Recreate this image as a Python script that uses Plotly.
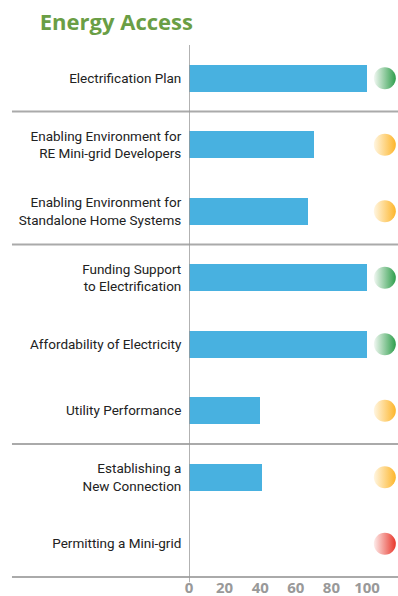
import plotly.graph_objects as go

categories = ['Electrification Plan',
              'Enabling Environment for<br>RE Mini-grid Developers',
              'Enabling Environment for<br>Standalone Home Systems',
              'Funding Support<br>to Electrification',
              'Affordability of Electricity',
              'Utility Performance',
              'Establishing a<br>New Connection',
              'Permitting a Mini-grid']
scores = [100, 70, 67, 100, 100, 40, 41, 0]
status = ['green', 'amber', 'amber', 'green', 'green', 'amber', 'amber', 'red']
group_breaks = [0.5, 2.5, 5.5]

full_col = {'green': '#2f9e4c', 'amber': '#fdb52a', 'red': '#e8372b'}
pale_col = {'green': '#f2f8f3', 'amber': '#fff6e2', 'red': '#fdeceb'}

font_main = 'Roboto, sans-serif'

fig = go.Figure()
fig.add_trace(go.Bar(x=scores, y=categories, orientation='h', width=0.41,
                     marker=dict(color='#48b1e0', line=dict(width=0)),
                     hoverinfo='x+y'))
fig.add_trace(go.Scatter(x=[110] * len(categories), y=categories, mode='markers',
                         cliponaxis=False,
                         marker=dict(size=22, color=[pale_col[s] for s in status],
                                     gradient=dict(type='horizontal', color=[full_col[s] for s in status]),
                                     line=dict(width=0)),
                         hoverinfo='skip'))

# group separators and frame lines
for b in group_breaks:
    fig.add_shape(type='line', xref='paper', yref='y', x0=-0.847, x1=1, y0=b, y1=b,
                  line=dict(color='#aaaaaa', width=2))
fig.add_shape(type='line', xref='paper', yref='paper', x0=-0.847, x1=1, y0=0, y1=0,
              line=dict(color='#aaaaaa', width=2))
fig.add_shape(type='line', xref='x', yref='paper', x0=0, x1=0, y0=-0.01, y1=1,
              line=dict(color='#999999', width=1.5))

fig.update_layout(
    width=398, height=596,
    margin=dict(l=189, r=0, t=45, b=19),
    plot_bgcolor='white', paper_bgcolor='white',
    showlegend=False, bargap=0,
    title=dict(text='<b>Energy Access</b>', x=0.1, xanchor='left', y=0.963, yanchor='middle',
               font=dict(family='Open Sans, sans-serif', size=22, color='#6a9e45')),
    xaxis=dict(range=[0, 117.4], tickvals=[0, 20, 40, 60, 80, 100], showgrid=False,
               zeroline=False, showline=False, ticks='', automargin=False, ticklabelstandoff=0,
               tickfont=dict(family='Open Sans, sans-serif', size=15, color='#999999', weight='bold')),
    yaxis=dict(range=[7.5, -0.5], showgrid=False, zeroline=False, showline=False,
               ticks='outside', ticklen=4, tickcolor='rgba(0,0,0,0)', automargin=False,
               tickfont=dict(family=font_main, size=13.5, color='#222222')),
)

fig.write_html('out.html', config={'displayModeBar': False},
               post_script="document.body.style.margin='0';")
